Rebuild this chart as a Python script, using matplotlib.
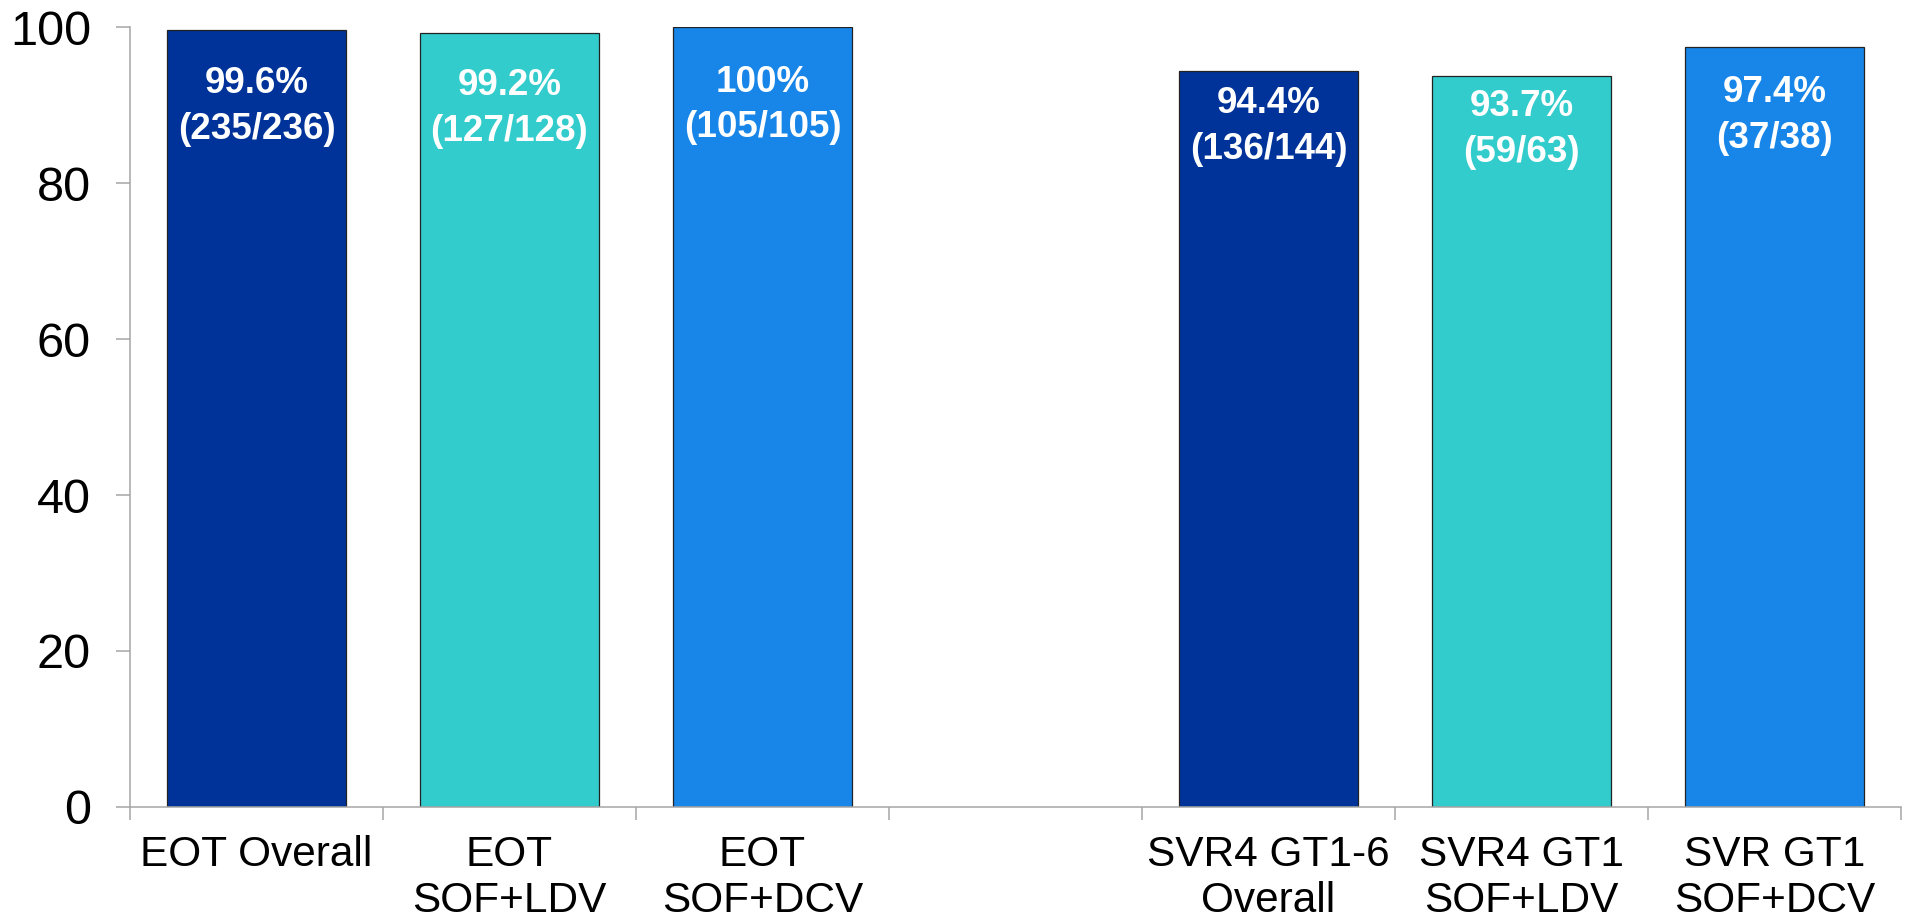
import matplotlib.pyplot as plt
from matplotlib.ticker import FixedLocator

plt.rcParams['font.family'] = ['Liberation Sans', 'DejaVu Sans']

categories = ['EOT Overall', 'EOT\nSOF+LDV', 'EOT\nSOF+DCV', '',
              'SVR4 GT1-6\nOverall', 'SVR4 GT1\nSOF+LDV', 'SVR GT1\nSOF+DCV']
rates = [99.6, 99.2, 100, None, 94.4, 93.7, 97.4]
counts = ['235/236', '127/128', '105/105', None, '136/144', '59/63', '37/38']
colors = ['#003399', '#33CCCC', '#1886E8', None, '#003399', '#33CCCC', '#1886E8']

fig = plt.figure(figsize=(19.09, 9.23), dpi=100)
ax = fig.add_axes([0.0681, 0.1257, 0.9277, 0.845])

grey = '#a6a6a6'

for i, (v, n, c) in enumerate(zip(rates, counts, colors)):
    if v is None:
        continue
    ax.bar(i, v, width=0.71, color=c, edgecolor='#222222', linewidth=0.9)
    # label sits midway between the 80 line and the top of the bar
    pct = f'{v:g}%'
    ax.text(i, (v + 80) / 2, f'{pct}\n({n})', ha='center', va='center',
            color='white', fontsize=26.5, fontweight='bold',
            linespacing=1.4)

ax.set_xlim(-0.5, len(categories) - 0.5)
ax.set_ylim(0, 100)
ax.set_yticks([0, 20, 40, 60, 80, 100])

label_pos = [i for i, c in enumerate(categories) if c]
ax.set_xticks(label_pos)
ax.set_xticklabels([categories[i] for i in label_pos], fontsize=30.5,
                   linespacing=1.2)
ax.xaxis.set_minor_locator(FixedLocator([k - 0.5 for k in range(len(categories) + 1)]))
ax.tick_params(axis='x', which='major', length=0, pad=20)
ax.tick_params(axis='x', which='minor', length=9.5, width=1.1, color=grey)
ax.tick_params(axis='y', length=10, width=1.1, color=grey, labelsize=35, pad=18)

for side in ['top', 'right']:
    ax.spines[side].set_visible(False)
for side in ['left', 'bottom']:
    ax.spines[side].set_color(grey)
    ax.spines[side].set_linewidth(1.1)

fig.savefig('out.png', dpi=100)
